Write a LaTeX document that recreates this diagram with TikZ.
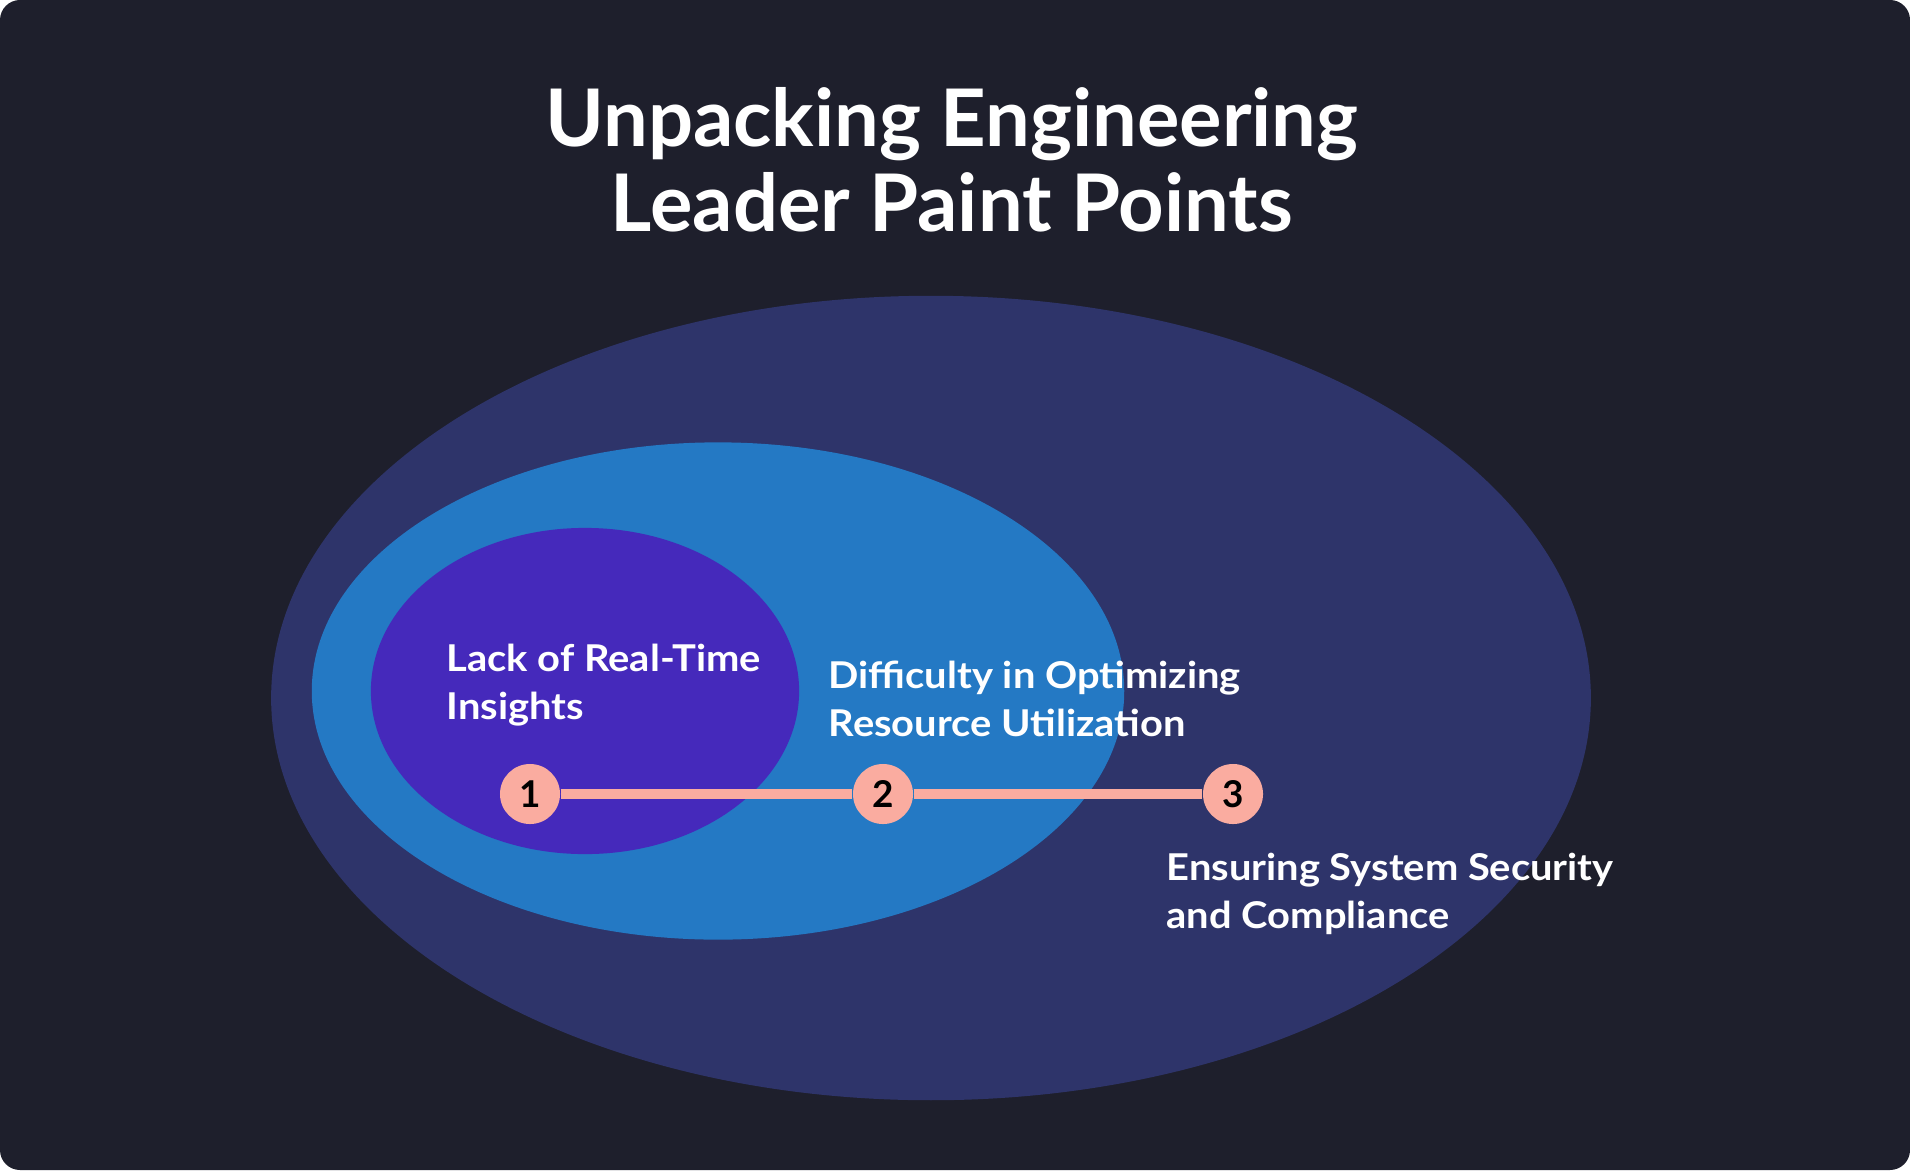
\documentclass[tikz,border=0pt]{standalone}
\usepackage{fontspec}
\setmainfont{Lato}
\newfontfamily\lblfont{Lato}[FakeStretch=1.08]
\usetikzlibrary{shapes.geometric}
\definecolor{bgc}{RGB}{30,31,44}
\definecolor{outerc}{RGB}{46,52,106}
\definecolor{midc}{RGB}{36,121,196}
\definecolor{innerc}{RGB}{69,41,187}
\definecolor{salmon}{RGB}{250,172,160}
\begin{document}
\begin{tikzpicture}[x=0.01cm,y=-0.01cm,
  blob/.style={ellipse, inner sep=0pt, draw=none},
  stepdot/.style={circle, fill=salmon, minimum size=0.6cm, inner sep=0pt, font=\bfseries\fontsize{10.5}{12}\selectfont, text=black},
  lbl/.style={anchor=west, align=left, inner sep=0pt, text=white, font=\lblfont\bfseries\fontsize{10.5}{13.5}\selectfont}
]
\fill[white] (0,0) rectangle (1910,1170);
\useasboundingbox (0,0) rectangle (1910,1170);
\fill[bgc, rounded corners=0.2cm] (0,0) rectangle (1910,1170);
\node[blob, fill=outerc, minimum width=13.19cm, minimum height=8.04cm] (outer) at (931,698) {};
\node[blob, fill=midc, minimum width=8.12cm, minimum height=4.97cm] (mid) at (718,691) {};
\node[blob, fill=innerc, minimum width=4.28cm, minimum height=3.26cm] (inner) at (585,691) {};
\node[align=center, text=white, font=\bfseries\fontsize{22.6}{24.2}\selectfont] (title) at (952,160) {Unpacking Engineering\\Leader Paint Points};
\node[stepdot] (c1) at (530,794) {1};
\node[stepdot] (c2) at (883,794) {2};
\node[stepdot] (c3) at (1233,794) {3};
\draw[salmon, line width=0.1cm] (c1) -- (c2);
\draw[salmon, line width=0.1cm] (c2) -- (c3);
\node[lbl] (l1) at (446,685) {Lack of Real-Time\\Insights};
\node[lbl] (l2) at (828,699) {Difficulty in Optimizing\\Resource Utilization};
\node[lbl] (l3) at (1166,894) {Ensuring System Security\\and Compliance};
\end{tikzpicture}
\end{document}
